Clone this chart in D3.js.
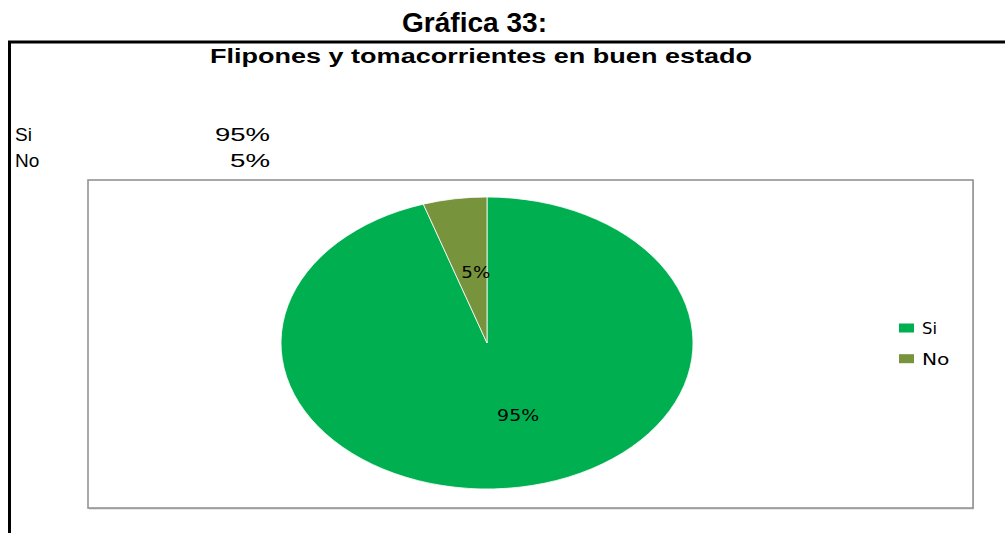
<!DOCTYPE html>
<html>
<head>
<meta charset="utf-8">
<script src="https://cdn.jsdelivr.net/npm/d3@7"></script>
<style>
  html, body { margin: 0; padding: 0; background: #fff; }
  svg { display: block; }
</style>
</head>
<body>
<svg id="chart" width="1005" height="533"></svg>
<script>
// Survey answers and their shares
const categories = ["Si", "No"];
const values = [95, 5];
const valueLabels = ["95%", "5%"];
const colors = ["#00B050", "#77933C"];

const svg = d3.select("#chart");
const sans = "'Liberation Sans', Arial, sans-serif";
const dejavu = "'DejaVu Sans', Verdana, sans-serif";

// Page heading
svg.append("text")
  .attr("x", 402).attr("y", 31.5)
  .attr("font-family", sans)
  .attr("font-weight", "bold")
  .attr("font-size", 28)
  .attr("textLength", 145)
  .attr("lengthAdjust", "spacingAndGlyphs")
  .text("Gráfica 33:");

// Outer frame (top and left edges)
svg.append("path")
  .attr("d", "M9.5,533 V42 H1005")
  .attr("fill", "none")
  .attr("stroke", "#000")
  .attr("stroke-width", 3);

// Chart title
svg.append("text")
  .attr("x", 210).attr("y", 63)
  .attr("font-family", sans)
  .attr("font-weight", "bold")
  .attr("font-size", 20)
  .attr("textLength", 542)
  .attr("lengthAdjust", "spacingAndGlyphs")
  .text("Flipones y tomacorrientes en buen estado");

// Small data table above the chart
const table = svg.append("g")
  .attr("font-family", sans)
  .attr("font-size", 19);
const tableWidths = [55, 40];
categories.forEach((c, i) => {
  const y = 140.5 + i * 26;
  table.append("text").attr("x", 15).attr("y", y).text(c);
  table.append("text").attr("x", 270 - tableWidths[i]).attr("y", y)
    .attr("textLength", tableWidths[i])
    .attr("lengthAdjust", "spacingAndGlyphs")
    .text(valueLabels[i]);
});

// Plot area box with a soft shadow
svg.append("rect")
  .attr("x", 89).attr("y", 181.5)
  .attr("width", 885).attr("height", 328)
  .attr("fill", "#d0d0d0");
svg.append("rect")
  .attr("x", 88).attr("y", 180)
  .attr("width", 885).attr("height", 328)
  .attr("fill", "#fff")
  .attr("stroke", "#8c8c8c")
  .attr("stroke-width", 1.5);

// Pie (drawn circular, then stretched horizontally into an ellipse)
const cx = 487, cy = 343, rx = 206, ry = 146;
const sx = rx / ry;
const pie = d3.pie().sort(null).value(d => d);
const arcs = pie(values);
const arc = d3.arc().innerRadius(0).outerRadius(ry);

const pieG = svg.append("g")
  .attr("transform", `translate(${cx},${cy}) scale(${sx},1)`);
pieG.selectAll("path")
  .data(arcs)
  .join("path")
  .attr("d", arc)
  .attr("fill", (d, i) => colors[i])
  .attr("stroke", "#fff")
  .attr("stroke-width", 0.8)
  .attr("vector-effect", "non-scaling-stroke");

// Slice labels
const labelArc = d3.arc().innerRadius(ry * 0.5).outerRadius(ry * 0.5);
const labelOffsets = [[15, 1], [5, 2]];
const labelWidths = [42, 29];
svg.append("g")
  .attr("font-family", dejavu)
  .attr("font-size", 15)
  .attr("text-anchor", "middle")
  .attr("dominant-baseline", "central")
  .selectAll("text")
  .data(arcs)
  .join("text")
  .attr("x", (d, i) => cx + labelArc.centroid(d)[0] * sx + labelOffsets[i][0])
  .attr("y", (d, i) => cy + labelArc.centroid(d)[1] + labelOffsets[i][1])
  .attr("textLength", (d, i) => labelWidths[i])
  .attr("lengthAdjust", "spacingAndGlyphs")
  .text((d, i) => valueLabels[i]);

// Legend
const legend = svg.append("g")
  .attr("font-family", dejavu)
  .attr("font-size", 15);
const legendWidths = [15, 27.5];
categories.forEach((c, i) => {
  const y = 328 + i * 30.7;
  legend.append("rect")
    .attr("x", 899).attr("y", y - 4.5)
    .attr("width", 15).attr("height", 9)
    .attr("fill", colors[i]);
  legend.append("text")
    .attr("x", 922).attr("y", y + 6)
    .attr("textLength", legendWidths[i])
    .attr("lengthAdjust", "spacingAndGlyphs")
    .text(c);
});
</script>
</body>
</html>
